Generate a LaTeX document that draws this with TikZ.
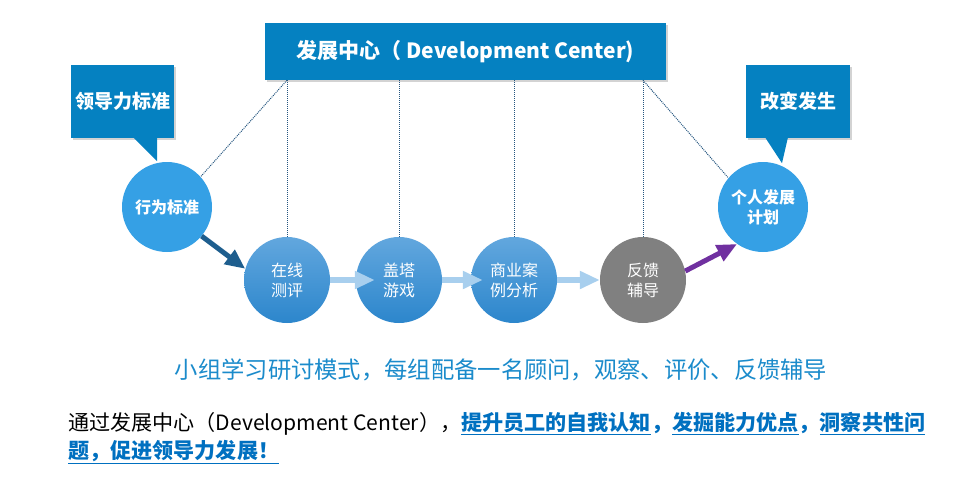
\documentclass[tikz,border=0pt]{standalone}
\usepackage{fontspec}
\setmainfont{Noto Sans CJK SC}
\usetikzlibrary{positioning,shadows,arrows.meta}

\definecolor{boxblue}{HTML}{0581C1}
\definecolor{dotblue}{HTML}{35A0E5}
\definecolor{midtop}{HTML}{62A7DE}
\definecolor{midbot}{HTML}{2C86CC}
\definecolor{fbgray}{HTML}{808080}
\definecolor{darkarrow}{HTML}{1E5E8E}
\definecolor{lightarrow}{HTML}{A8CFEE}
\definecolor{purplearrow}{HTML}{7030A0}
\definecolor{linkgray}{HTML}{24557F}
\definecolor{notetext}{HTML}{1B8BCB}
\definecolor{keyblue}{HTML}{0070C0}

\newcommand{\dculine}[1]{\vtop{\hbox{#1}\kern1.5pt\hrule height 1.3pt}}

\tikzset{
  titlebox/.style={fill=boxblue,text=white,minimum width=401pt,minimum height=57pt,
    font=\fontsize{21}{25}\selectfont\bfseries,
    drop shadow={shadow xshift=2pt,shadow yshift=-2pt,opacity=0.35}},
  callbox/.style={fill=boxblue,text=white,minimum height=73pt,
    font=\fontsize{19}{23}\selectfont\bfseries,
    drop shadow={shadow xshift=2pt,shadow yshift=-2pt,opacity=0.35}},
  bigdot/.style={circle,fill=dotblue,text=white,minimum size=90pt,inner sep=0pt,align=center,
    font=\fontsize{16}{20}\selectfont\bfseries},
  middot/.style={circle,top color=midtop,bottom color=midbot,text=white,minimum size=86pt,
    inner sep=0pt,align=center,font=\fontsize{16}{20}\selectfont},
  graydot/.style={circle,fill=fbgray,text=white,minimum size=86pt,
    inner sep=0pt,align=center,font=\fontsize{16}{20}\selectfont},
  link/.style={linkgray,densely dotted,line width=1pt},
  steparrow/.style={->,lightarrow,line width=6pt,>={Triangle[length=20pt,width=17pt]}},
}

\begin{document}
\begin{tikzpicture}[x=1pt,y=-1pt]
    \useasboundingbox (0,0) rectangle (964,487);

    % title and callouts
    \node[titlebox] (dc) at (465.5,51.5) {发展中心（ Development Center)};
    \node[callbox,minimum width=103pt] (lead) at (122.5,101.5) {领导力标准};
    \node[callbox,minimum width=104pt] (change) at (798,101.5) {改变发生};
    \fill[boxblue] ([xshift=10.5pt,yshift=1pt]lead.south) -- ([xshift=34.5pt,yshift=1pt]lead.south)
        -- ([xshift=34.5pt,yshift=-23pt]lead.south) -- cycle;
    \fill[boxblue] ([xshift=-33pt,yshift=1pt]change.south) -- ([xshift=-10pt,yshift=1pt]change.south)
        -- ([xshift=-16pt,yshift=-25pt]change.south) -- cycle;

    % circles
    \node[bigdot] (hwbz) at (167,207) {行为标准};
    \node[middot] (zxcp) at (287,280) {在线\\测评};
    \node[middot] (gtyx) at (399,280) {盖塔\\游戏};
    \node[middot] (syal) at (514,280) {商业案\\例分析};
    \node[graydot] (fkfd) at (643,280) {反馈\\辅导};
    \node[bigdot] (grfz) at (763,207) {个人发展\\计划};

    % dotted links to the title
    \draw[link] (zxcp.north |- dc.south) -- (hwbz.42);
    \foreach \n in {zxcp,gtyx,syal,fkfd}
        \draw[link] (\n.north |- dc.south) -- (\n.north);
    \draw[link] (fkfd.north |- dc.south) -- (grfz.140);

    % arrows
    \draw[->,darkarrow,line width=5pt,>={Triangle[length=20pt,width=17pt]}] (hwbz.-40) -- (zxcp.165);
    \draw[steparrow] (zxcp.east) -- ([xshift=19pt]gtyx.west);
    \draw[steparrow] (gtyx.east) -- ([xshift=12pt]syal.west);
    \draw[steparrow] (syal.east) -- (fkfd.west);
    \draw[->,purplearrow,line width=5pt,>={Triangle[length=20pt,width=17pt]}] (fkfd.12) -- (grfz.235);

    % notes
    \node[text=notetext,font=\fontsize{23.3}{27}\selectfont] (mode) at (501,370)
        {小组学习研讨模式，每组配备一名顾问，观察、评价、反馈辅导};
    \node[anchor=base west,inner sep=0pt,font=\fontsize{21.1}{25}\selectfont] (sum1) at (68,430)
        {通过发展中心（Development Center），{\color{keyblue}\bfseries\dculine{提升员工的自我认知}，\dculine{发掘能力优点}，\dculine{洞察共性问}}};
    \node[anchor=base west,inner sep=0pt,font=\fontsize{21.1}{25}\selectfont\bfseries,text=keyblue] (sum2) at (68,458)
        {\dculine{题，促进领导力发展！}};
\end{tikzpicture}
\end{document}
